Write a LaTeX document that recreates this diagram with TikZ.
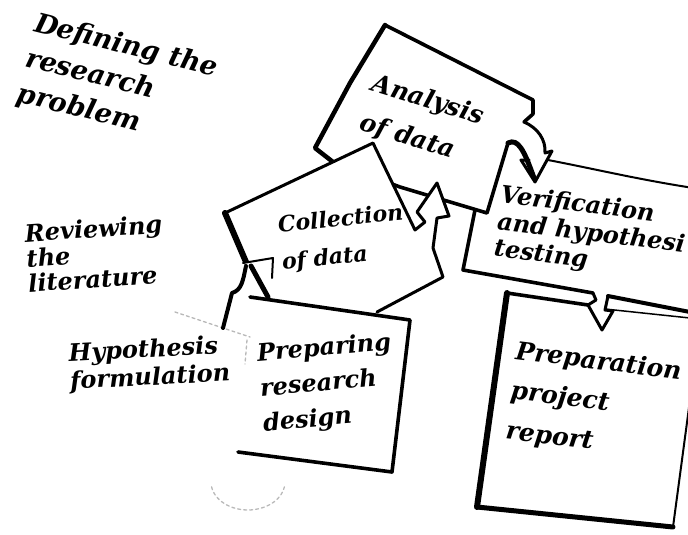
\documentclass[tikz,border=0pt]{standalone}
\usepackage{fontspec}
\setmainfont{DejaVu Serif}
\newcommand{\lblfont}[2]{\fontsize{#1}{#2}\selectfont\bfseries\itshape}
\begin{document}
\begin{tikzpicture}[x=1pt,y=-1pt,line join=round,line cap=round,
  edge/.style={line width=3.6pt},
  faint/.style={gray!55,line width=1.3pt,dash pattern=on 3pt off 3pt},
  lbl/.style={align=left,inner sep=0pt,anchor=north west}]
\useasboundingbox (0,0) rectangle (688,535);
\clip (0,0) rectangle (688,535);

% Verification box
\fill[white] (490,150) -- (548,160) -- (700,189) -- (700,300) -- (593,293) -- (463,270) -- (476,205) -- cycle;
\draw[line width=2pt] (548,160) .. controls (600,170) and (640,180) .. (700,189);
\draw[edge] (476,205) -- (463,270) -- (593,293);

% Analysis box
\fill[white] (385,25) -- (533,100) -- (533,115) -- (524,122) -- (508,143) -- (487,213) -- (400,187) -- (333,162) -- (315,148) -- (350,83) -- cycle;
\draw[line width=4.5pt] (333,162) -- (315,148) -- (350,83) -- (385,25);
\draw[edge] (385,25) -- (533,100) -- (533,114) -- (524,122);
\draw[line width=3pt] (524,122) .. controls (538,128) and (546,140) .. (545,153) -- (552,151) -- (535,182) -- (521,160) -- (529,160);
\draw[line width=5pt] (508,143) .. controls (518,138) and (524,150) .. (534,178);
\draw[edge] (508,143) -- (487,213) -- (400,187) -- (333,162);

% Collection box
\fill[white] (373,143) -- (415,230) -- (425,222) -- (417,212) -- (437,183) -- (449,216) -- (437,218) -- (433,248) -- (443,277) -- (377,312) -- (268,298) -- (245,262) -- (225,213) -- cycle;
\draw[line width=3pt] (225,213) -- (373,143) -- (415,230) -- (425,222) -- (417,212) -- (437,183) -- (449,216) -- (437,218) -- (433,248) -- (443,277) -- (377,312);
\draw[line width=6pt] (225,213) -- (246,262);

% Preparing box
\fill[white] (250,297) -- (410,320) -- (392,472) -- (238,452) -- (246,340) -- cycle;
\draw[edge] (250,297) -- (410,320) -- (392,472) -- (238,452);
\draw[faint] (175,312) -- (223,328) -- (250,337);
\draw[faint] (247,340) -- (245,364);
\draw[faint] (248,482) ++(170:37 and 28) arc[start angle=170,end angle=10,x radius=37,y radius=28];

% arrow from Preparing up into Collection
\draw[line width=2pt,fill=white] (243,263) -- (273,258) -- (272,278);
\draw[line width=5pt] (251,266) -- (268,297);
\draw[line width=4pt] (246,266) .. controls (243,280) and (242,290) .. (232,293) -- (223,328);

% Preparation box
\draw[line width=6pt] (507,293) -- (477,507);
\draw[line width=5pt] (477,507) -- (673,527);
\draw[line width=2pt] (673,527) -- (690,400);
\draw[edge] (507,293) -- (588,305);
\draw[line width=3pt] (593,293) -- (596,300) -- (588,305) -- (602,330) -- (613,311) -- (605,310) -- (608,296);
\draw[line width=4pt] (608,296) -- (690,312);
\draw[line width=1.5pt] (605,309) -- (690,318);

% labels
\node[lbl,rotate=-14,font=\lblfont{27}{36}] (defn) at (38,11) {Defining the\\research\\problem};
\node[lbl,rotate=4,font=\lblfont{24}{25}] (rev) at (24,224) {Reviewing\\the\\literature};
\node[lbl,rotate=3,font=\lblfont{24}{28}] (hyp) at (68,343) {Hypothesis\\formulation};
\node[lbl,rotate=6,font=\lblfont{22}{37}] (coll) at (277,216) {Collection\\of data};
\node[lbl,rotate=-17,font=\lblfont{25}{41}] (ana) at (376,72) {Analysis\\of data};
\node[lbl,rotate=-7,font=\lblfont{24}{27}] (ver) at (502,184) {Verification\\and hypothesi\\testing};
\node[lbl,rotate=5,font=\lblfont{24}{35}] (prep) at (256,343) {Preparing\\research\\design};
\node[lbl,rotate=-7,font=\lblfont{25}{40}] (prepn) at (517,340) {Preparation\\project\\report};
\end{tikzpicture}
\end{document}
